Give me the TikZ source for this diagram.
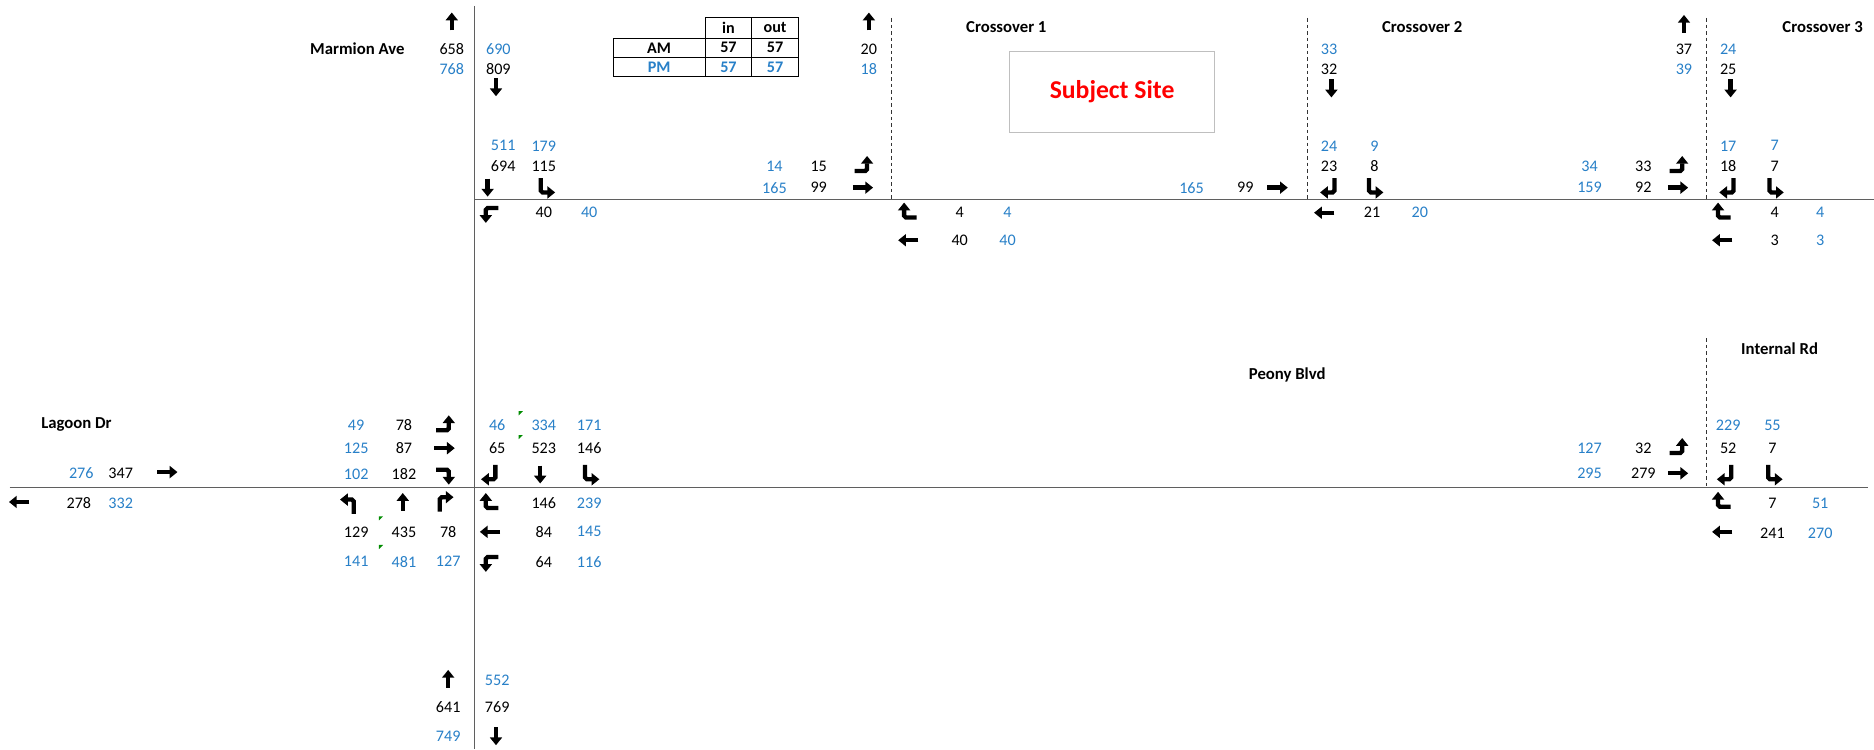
\documentclass[tikz,border=0pt]{standalone}
\usepackage{fontspec}
\setmainfont{Carlito}
\usetikzlibrary{arrows.meta}
\definecolor{nblue}{RGB}{40,128,200}
\definecolor{roadgray}{RGB}{95,95,95}
\tikzset{
  kn/.style={inner sep=0pt, text=black},
  bn/.style={inner sep=0pt, text=nblue},
  lbl/.style={inner sep=0pt, font=\fontsize{14}{16}\selectfont\bfseries},
  arr/.style={line width=3.6pt, -{Triangle[width=10pt,length=6.5pt]}},
  turn/.style={arr, rounded corners=1.5pt},
  road/.style={draw=roadgray, line width=1.1pt},
  xline/.style={draw=black!80, line width=0.8pt, dash pattern=on 3pt off 2.5pt},
  cell/.style={draw=black, line width=0.9pt},
  pics/aU/.style={code={\draw[arr] (0,7.5) -- (0,-7.5);}},
  pics/aD/.style={code={\draw[arr] (0,-7.5) -- (0,7.5);}},
  pics/aR/.style={code={\draw[arr] (-8.5,0) -- (8.5,0);}},
  pics/aL/.style={code={\draw[arr] (8.5,0) -- (-8.5,0);}},
  pics/tDR/.style={code={\draw[turn] (-4.5,-8) -- (-4.5,4) -- (7.5,4);}},
  pics/tDL/.style={code={\draw[turn] (4.5,-8) -- (4.5,4) -- (-7.5,4);}},
  pics/tRU/.style={code={\draw[turn] (-7,4) -- (3.5,4) -- (3.5,-8.5);}},
  pics/tRD/.style={code={\draw[turn] (-7,-4) -- (3.5,-4) -- (3.5,8.5);}},
  pics/tLD/.style={code={\draw[turn] (7,-4) -- (-3.5,-4) -- (-3.5,8.5);}},
  pics/tLU/.style={code={\draw[turn] (7,4) -- (-3.5,4) -- (-3.5,-8.5);}},
  pics/tUL/.style={code={\draw[turn] (4,8) -- (4,-4) -- (-7.5,-4);}},
  pics/tUR/.style={code={\draw[turn] (-4,8) -- (-4,-4) -- (7.5,-4);}},
  pics/cmark/.style={code={\fill[green!55!black] (0,0) -- (3.5,0) -- (0,3.5) -- cycle;}}
}
\begin{document}
\begin{tikzpicture}[x=1pt, y=-1pt, font=\fontsize{13.5}{16}\selectfont]
\useasboundingbox (0,0) rectangle (1568,627);
\fill[white] (0,0) rectangle (1568,627);

% roads
\coordinate (vtop) at (397,5);
\coordinate (vbot) at (397,627);
\coordinate (h1l) at (397,167);
\coordinate (h1r) at (1568,167);
\coordinate (h2l) at (8,408);
\coordinate (h2r) at (1563,408);
\draw[road] (vtop) -- (vbot);
\draw[road] (h1l) -- (h1r);
\draw[road] (h2l) -- (h2r);

% crossover dashed lines
\coordinate (c1t) at (746,15); \coordinate (c1b) at (746,167);
\coordinate (c2t) at (1094,15); \coordinate (c2b) at (1094,167);
\coordinate (c3t) at (1428,15); \coordinate (c3b) at (1428,167);
\coordinate (irt) at (1428,283); \coordinate (irb) at (1428,408);
\draw[xline] (c1t) -- (c1b);
\draw[xline] (c2t) -- (c2b);
\draw[xline] (c3t) -- (c3b);
\draw[xline] (irt) -- (irb);

% labels
\node[lbl] (marmion) at (299,41) {Marmion Ave};
\node[lbl] (cr1) at (842,23) {Crossover 1};
\node[lbl] (cr2) at (1190,23) {Crossover 2};
\node[lbl] (cr3) at (1525,23) {Crossover 3};
\node[lbl] (peony) at (1077,314) {Peony Blvd};
\node[lbl] (internal) at (1489,292) {Internal Rd};
\node[lbl] (lagoon) at (64,355) {Lagoon Dr};

% subject site
\node[draw=black!25, line width=0.9pt, minimum width=171pt, minimum height=68pt, inner sep=0pt] (site) at (930.5,77) {};
\node[inner sep=0pt, text=red, font=\fontsize{21.5}{24}\selectfont\bfseries] (sitetxt) at (site.center) {Subject Site};

% in/out table
\draw[cell] (513,32) rectangle (668,64);
\draw[cell] (590,15) rectangle (668,64);
\draw[cell] (629,15) -- (629,64);
\draw[cell] (513,48) -- (668,48);
\draw[cell] (590,32) -- (668,32);
\node[kn, font=\fontsize{13.5}{16}\selectfont\bfseries] (tin) at (609.5,23) {in};
\node[kn, font=\fontsize{13.5}{16}\selectfont\bfseries] (tout) at (648.5,23) {out};
\node[kn, font=\fontsize{13.5}{16}\selectfont\bfseries] (tam) at (551.5,40) {AM};
\node[kn, font=\fontsize{13.5}{16}\selectfont\bfseries] (tamin) at (609.5,40) {57};
\node[kn, font=\fontsize{13.5}{16}\selectfont\bfseries] (tamout) at (648.5,40) {57};
\node[bn, font=\fontsize{13.5}{16}\selectfont\bfseries] (tpm) at (551.5,56) {PM};
\node[bn, font=\fontsize{13.5}{16}\selectfont\bfseries] (tpmin) at (609.5,56) {57};
\node[bn, font=\fontsize{13.5}{16}\selectfont\bfseries] (tpmout) at (648.5,56) {57};

% black volumes
\foreach \x/\y/\t [count=\i] in {
  378/41/658, 417/58/809, 727/41/20, 1112/58/32, 1409/41/37, 1446/58/25,
  421/139/694, 455/139/115, 685/139/15, 685/157/99, 1042/157/99, 1112/139/23,
  1150/139/8, 1375/139/33, 1375/157/92, 1446/139/18, 1485/139/7,
  455/178/40, 803/178/4, 803/201/40, 1148/178/21, 1485/178/4, 1485/201/3,
  338/356/78, 338/375/87, 101/396/347, 338/397/182, 416/375/65, 455/375/523, 493/375/146,
  66/421/278, 455/421/146, 298/445/129, 338/445/435, 375/445/78, 455/445/84, 455/470/64,
  1375/375/32, 1375/396/279, 1446/375/52, 1483/375/7, 1483/421/7, 1483/446/241,
  375/592/641, 416/592/769}
  \node[kn] (k\i) at (\x,\y) {\t};

% blue volumes
\foreach \x/\y/\t [count=\i] in {
  378/58/768, 417/41/690, 727/58/18, 1112/41/33, 1409/58/39, 1446/41/24,
  421/122/511, 455/122/179, 648/139/14, 648/157/165, 997/157/165, 1112/122/24,
  1150/122/9, 1330/139/34, 1330/157/159, 1446/122/17, 1485/122/7,
  493/178/40, 843/178/4, 843/201/40, 1188/178/20, 1523/178/4, 1523/201/3,
  298/356/49, 298/375/125, 68/396/276, 298/397/102, 416/356/46, 455/356/334, 493/356/171,
  101/421/332, 493/421/239, 493/445/145, 298/470/141, 338/470/481, 375/470/127, 493/470/116,
  1330/375/127, 1330/396/295, 1446/356/229, 1483/356/55, 1523/421/51, 1523/446/270,
  416/569/552, 375/616/749}
  \node[bn] (b\i) at (\x,\y) {\t};

% movement arrows
\foreach \p in {(378,18), (727,18), (1409,20), (337,420), (375,568)} \pic at \p {aU};
\foreach \p in {(415,73), (1114,74), (1448,74), (408,157), (452,397), (415,616)} \pic at \p {aD};
\foreach \p in {(722,157), (1069,157), (1404,157), (140,395), (372,375), (1404,396)} \pic at \p {aR};
\foreach \p in {(760,201), (1108,178), (1441,201), (16,420), (410,445), (1441,445)} \pic at \p {aL};
\foreach \p in {(457,157), (1150,157), (1485,157), (494,397), (1484,397)} \pic at \p {tDR};
\foreach \p in {(1112,157), (1446,157), (410,397), (1444,397)} \pic at \p {tDL};
\foreach \p in {(722,139), (1404,139), (372,356), (1404,375)} \pic at \p {tRU};
\pic at (372,397) {tRD};
\foreach \p in {(410,178), (410,470)} \pic at \p {tLD};
\foreach \p in {(760,178), (1441,178), (410,421), (1441,420)} \pic at \p {tLU};
\pic at (292,422) {tUL};
\pic at (372,420) {tUR};

% comment markers
\foreach \p in {(434,344), (434,364), (317,432), (317,456)} \pic at \p {cmark};
\end{tikzpicture}
\end{document}
